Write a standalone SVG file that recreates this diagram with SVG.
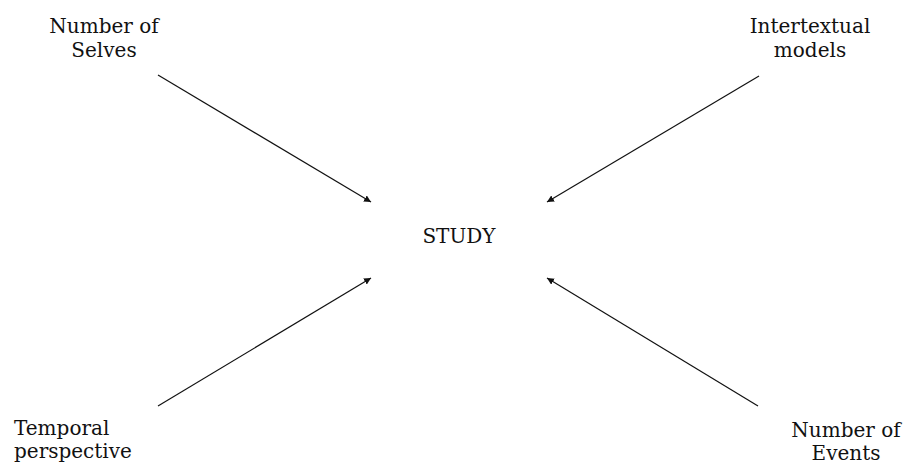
<svg xmlns="http://www.w3.org/2000/svg" width="907" height="464" viewBox="0 0 907 464">
<style>
text{font-family:"DejaVu Serif","Liberation Serif",serif;font-size:20px;fill:#111}
.c{text-anchor:middle}
.e line{stroke:#111;stroke-width:1.2;marker-end:url(#ah)}
</style>
<defs>
<marker id="ah" viewBox="0 0 10 10" refX="10" refY="5" markerWidth="7" markerHeight="7" markerUnits="userSpaceOnUse" orient="auto"><path d="M0,0L10,5L0,10z" fill="#111"/></marker>
</defs>
<rect width="907" height="464" fill="#fff"/>
<g id="connectors" class="e">
<line x1="158" y1="75" x2="371" y2="202"/>
<line x1="759" y1="76" x2="547" y2="202"/>
<line x1="158" y1="406" x2="371" y2="278"/>
<line x1="758" y1="406" x2="547" y2="278"/>
</g>
<g id="selves"><text class="c" x="104" y="33">Number of</text><text class="c" x="104" y="57">Selves</text></g>
<g id="intertextual"><text class="c" x="810" y="33">Intertextual</text><text class="c" x="810" y="57">models</text></g>
<g id="study"><text class="c" x="459" y="243">STUDY</text></g>
<g id="temporal"><text x="14" y="435">Temporal</text><text x="14" y="458">perspective</text></g>
<g id="events"><text class="c" x="846" y="437">Number of</text><text class="c" x="846" y="460">Events</text></g>
</svg>
